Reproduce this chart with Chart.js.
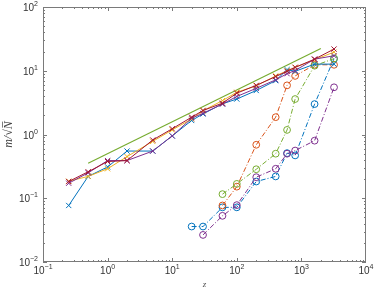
<!DOCTYPE html>
<html>
<head>
<meta charset="utf-8">
<script src="https://cdn.jsdelivr.net/npm/chart.js@4/dist/chart.umd.min.js"></script>
<style>
  html, body { margin: 0; padding: 0; background: #fff; }
  #wrap { width: 374px; height: 291px; position: relative; }
</style>
</head>
<body>
<div id="wrap"><canvas id="chart"></canvas></div>
<script>
// solid lines with x markers
const zSolid = [0.25, 0.5, 1, 2, 5, 10, 20, 30, 60, 100, 200, 400, 600, 800, 1600, 3200];
const solidBlue   = [0.077, 0.22, 0.31, 0.55, 0.55, 0.95, 1.66, 2.1, 3.03, 3.6, 4.9, 7.0, 10.4, 9.8, 12.7, 12.7];
const solidYellow = [0.185, 0.22, 0.29, 0.45, 0.78, 1.18, 1.75, 2.36, 3.4, 4.6, 5.8, 8.3, 10.0, 11.3, 14.9, 19.6];
const solidPurple = [0.172, 0.25, 0.39, 0.39, 0.55, 0.95, 1.8, 2.15, 3.0, 3.95, 5.3, 7.2, 9.0, 10.1, 15.2, 17.2];
const solidRed    = [0.183, 0.26, 0.377, 0.39, 0.82, 1.23, 1.87, 2.38, 3.1, 4.45, 5.9, 8.1, 9.8, 11.3, 15.2, 21.9];

// dash-dot lines with circle markers
const zBlueO   = [20, 30, 60, 100, 200, 400, 600, 800, 1600, 3200];
const blueO    = [0.036, 0.036, 0.072, 0.072, 0.183, 0.22, 0.51, 0.47, 3.0, 15.5];
const zOrangeO = [60, 100, 200, 400, 600, 800, 1600, 3200];
const orangeO  = [0.077, 0.152, 0.69, 1.87, 5.9, 8.3, 12.4, 12.4];
const zGreenO  = [60, 100, 200, 400, 600, 800, 1600, 3200];
const greenO   = [0.116, 0.168, 0.285, 0.50, 1.18, 3.6, 12.0, 15.5];
const zPurpleO = [30, 60, 100, 200, 400, 600, 800, 1600, 3200];
const purpleO  = [0.0266, 0.053, 0.078, 0.214, 0.29, 0.50, 0.56, 0.80, 5.5];

// reference slope line
const zRef = [0.5, 2000];
const yRef = [0.354, 22.4];

const xTicks = [0.1, 1, 10, 100, 1000, 10000];
const yTicks = [0.01, 0.1, 1, 10, 100];

const C = {
    blue: '#0072BD', orange: '#D95319', yellow: '#EDB120',
    purple: '#7E2F8E', green: '#77AC30', red: '#A2142F',
};

const pts = (xs, ys) => xs.map((x, i) => ({ x, y: ys[i] }));

function solid(label, ys, color) {
    return {
        label, data: pts(zSolid, ys), borderColor: color, backgroundColor: color,
        borderWidth: 1, pointStyle: 'crossRot', pointRadius: 3.7, pointBorderWidth: 1,
    };
}
function dashDot(label, xs, ys, color) {
    return {
        label, data: pts(xs, ys), borderColor: color, backgroundColor: 'rgba(0,0,0,0)',
        borderWidth: 1, borderDash: [5, 2, 1, 2], pointStyle: 'circle', pointRadius: 3.4, pointBorderWidth: 1,
    };
}

// "10" with a raised exponent, drawn as text
function powLabel(ctx, exp, x, y, align) {
    const base = '10', sup = String(exp).replace('-', '\u2212');
    ctx.font = '10px "Liberation Sans", Arial';
    const wb = ctx.measureText(base).width;
    ctx.font = '7px "Liberation Sans", Arial';
    const ws = ctx.measureText(sup).width;
    const w = wb + ws;
    const x0 = align === 'right' ? x - w : x - w / 2;
    ctx.textAlign = 'left';
    ctx.textBaseline = 'alphabetic';
    ctx.font = '10px "Liberation Sans", Arial';
    ctx.fillText(base, x0, y);
    ctx.font = '7px "Liberation Sans", Arial';
    ctx.fillText(sup, x0 + wb, y - 5);
}

// box + inward major/minor ticks + tick labels, MATLAB-like
const boxTicks = {
    id: 'boxTicks',
    afterDraw(chart) {
        const { ctx, chartArea: a, scales: { x, y } } = chart;
        ctx.save();
        ctx.strokeStyle = '#7a7a7a';
        ctx.lineWidth = 1;
        ctx.strokeRect(Math.round(a.left) + 0.5, Math.round(a.top) + 0.5,
            Math.round(a.right - a.left) - 1, Math.round(a.bottom - a.top) - 1);
        ctx.beginPath();
        for (let d = -1; d <= 3; d++) {
            for (let k = 1; k <= 9; k++) {
                const px = Math.round(x.getPixelForValue(k * Math.pow(10, d))) + 0.5;
                const len = k === 1 ? 4 : 2;
                ctx.moveTo(px, a.bottom); ctx.lineTo(px, a.bottom - len);
                ctx.moveTo(px, a.top); ctx.lineTo(px, a.top + len);
            }
        }
        for (let d = -2; d <= 1; d++) {
            for (let k = 1; k <= 9; k++) {
                const py = Math.round(y.getPixelForValue(k * Math.pow(10, d))) + 0.5;
                const len = k === 1 ? 4 : 2;
                ctx.moveTo(a.left, py); ctx.lineTo(a.left + len, py);
                ctx.moveTo(a.right, py); ctx.lineTo(a.right - len, py);
            }
        }
        ctx.stroke();

        ctx.fillStyle = '#333';
        xTicks.forEach(v => powLabel(ctx, Math.round(Math.log10(v)), x.getPixelForValue(v), a.bottom + 12, 'center'));
        yTicks.forEach(v => powLabel(ctx, Math.round(Math.log10(v)), a.left - 5, y.getPixelForValue(v) + 4, 'right'));
        ctx.restore();
    },
};

new Chart(document.getElementById('chart').getContext('2d'), {
    type: 'line',
    data: {
        datasets: [
            solid('red x', solidRed, C.red),
            solid('purple x', solidPurple, C.purple),
            solid('yellow x', solidYellow, C.yellow),
            solid('blue x', solidBlue, C.blue),
            dashDot('purple o', zPurpleO, purpleO, C.purple),
            dashDot('green o', zGreenO, greenO, C.green),
            dashDot('orange o', zOrangeO, orangeO, C.orange),
            dashDot('blue o', zBlueO, blueO, C.blue),
            {
                label: 'slope 1/2', data: pts(zRef, yRef), borderColor: C.green,
                borderWidth: 1.2, pointRadius: 0,
            },
        ],
    },
    plugins: [boxTicks],
    options: {
        responsive: true,
        maintainAspectRatio: false,
        animation: false,
        devicePixelRatio: 1,
        layout: { padding: { top: 7, right: 8, left: 0, bottom: 0 } },
        plugins: { legend: { display: false }, tooltip: { enabled: false } },
        scales: {
            x: {
                type: 'logarithmic', min: 0.1, max: 10000,
                afterBuildTicks: s => { s.ticks = xTicks.map(value => ({ value })); },
                afterFit: s => { s.height = 29; },
                grid: { display: false, drawTicks: false },
                border: { display: false },
                ticks: { display: false },
                title: {
                    display: true, text: 'z', color: '#555',
                    font: { family: 'Liberation Serif, Times New Roman', size: 9, style: 'italic' },
                    padding: { top: 0, bottom: 1 },
                },
            },
            y: {
                type: 'logarithmic', min: 0.01, max: 100,
                afterBuildTicks: s => { s.ticks = yTicks.map(value => ({ value })); },
                afterFit: s => { s.width = 43; },
                grid: { display: false, drawTicks: false },
                border: { display: false },
                ticks: { display: false },
                title: {
                    display: true, text: 'm/\u221AN\u0305', color: '#444',
                    font: { family: 'Liberation Serif, Times New Roman', size: 12, style: 'italic' },
                    padding: { top: 2, bottom: 0 },
                },
            },
        },
    },
});
</script>
</body>
</html>
